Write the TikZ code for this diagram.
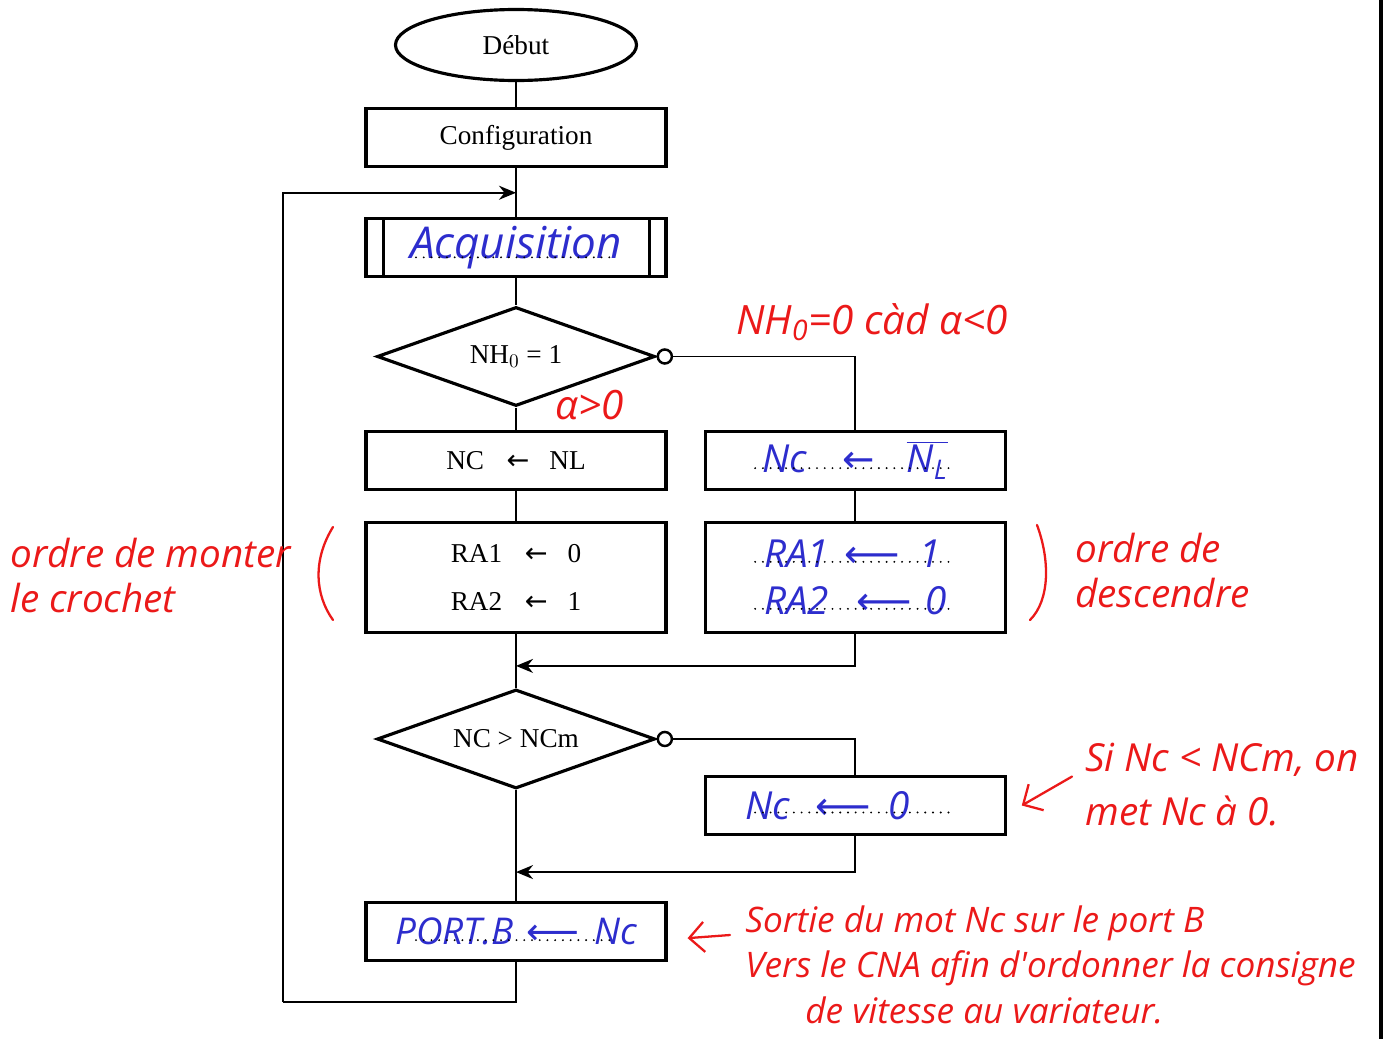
\documentclass[tikz,border=0pt]{standalone}
\usepackage{fontspec}
\setmainfont{Liberation Serif}
\newfontfamily\hand{Open Sans}
\newfontfamily\arrfont{DejaVu Sans}
\usetikzlibrary{arrows.meta, positioning, shapes.geometric}
\definecolor{ink}{RGB}{45,45,205}
\definecolor{pen}{RGB}{235,25,25}
\newcommand{\blank}[2]{\draw[blank] ([xshift=-2cm,yshift=#2]#1.center) -- ([xshift=2cm,yshift=#2]#1.center);}
\newcommand{\assign}{{\arrfont ←}}
\newcommand{\longassign}{{\arrfont ⟵}}

\begin{document}
\begin{tikzpicture}[
      box/.style={draw, line width=1.8pt, minimum width=6cm, minimum height=1.16cm, inner sep=0pt, font=\fontsize{15.5}{27}\selectfont},
      term/.style={ellipse, draw, line width=1.8pt, minimum width=4.82cm, minimum height=1.42cm, inner sep=0pt, font=\fontsize{15.5}{18}\selectfont},
      test/.style={diamond, draw, line width=1.8pt, minimum width=5.56cm, minimum height=1.98cm, aspect=2.8, inner sep=0pt, font=\fontsize{15.5}{18}\selectfont},
      link/.style={line width=1.1pt},
      flow/.style={link, -{Stealth[length=3.4mm, width=2.8mm]}},
      no/.style={link, {Circle[open, length=3.3mm, width=3.3mm, line width=1.4pt]}-},
      handw/.style={text=ink, font=\hand\itshape\fontsize{22}{27}\selectfont},
      note/.style={text=pen, font=\hand\itshape\fontsize{22}{26}\selectfont, inner sep=0pt},
      remark/.style={draw=pen, line width=1.3pt, line cap=round},
      blank/.style={line width=1.2pt, line cap=round, dash pattern=on 0pt off 4.4pt}
    ]
    \useasboundingbox (0,0) rectangle (27.66,-20.78);
    % main column
    \node[term] (start) at (10.32,-0.9) {Début};
    \node[box, below=0.5cm of start] (config) {Configuration};
    \node[box, handw, font=\hand\itshape\fontsize{25}{27}\selectfont, below=0.98cm of config] (acq) {Acquisition};
    \node[test, below=0.54cm of acq] (d1) {NH$_0$ = 1};
    \node[box, below=0.44cm of d1] (nc) {NC\hspace{0.45cm}\assign\hspace{0.4cm}NL};
    \node[box, align=center, minimum height=2.2cm, below=0.6cm of nc] (ra) {RA1\hspace{0.45cm}\assign\hspace{0.4cm}0\\RA2\hspace{0.45cm}\assign\hspace{0.4cm}1};
    \node[test, below=1.08cm of ra] (d2) {NC > NCm};
    \node[box, handw, font=\hand\itshape\fontsize{21}{27}\selectfont, below=2.22cm of d2] (port) {PORT.B\hspace{0.25cm}\longassign\hspace{0.3cm}Nc};
    % right column
    \node[box, handw, right=0.72cm of nc] (rb1) {Nc\hspace{0.7cm}\assign\hspace{0.64cm}$\overline{\mbox{N\textsubscript{L}}}$};
    \node[box, handw, align=left, minimum height=2.2cm, right=0.72cm of ra] (rb2) {RA1\hspace{0.3cm}\longassign\hspace{0.4cm}1\\RA2\hspace{0.55cm}\longassign\hspace{0.26cm}0};
    \node[box, handw, below=2.82cm of rb2] (zero) {Nc\hspace{0.5cm}\longassign\hspace{0.36cm}0\hspace{1.1cm}\mbox{}};
    % predefined process bars
    \draw[line width=1.8pt] ([xshift=0.38cm]acq.north west) -- ([xshift=0.38cm]acq.south west);
    \draw[line width=1.8pt] ([xshift=-0.36cm]acq.north east) -- ([xshift=-0.36cm]acq.south east);
    % dotted blanks
    \blank{acq}{-0.19cm}
    \blank{rb1}{-0.16cm}
    \blank{rb2}{0.31cm}
    \blank{rb2}{-0.63cm}
    \blank{zero}{-0.14cm}
    \blank{port}{-0.17cm}
    % links
    \draw[link] (start) -- (config);
    \draw[link] (config) -- (acq);
    \draw[link] (acq) -- (d1);
    \draw[link] (d1) -- (nc);
    \draw[link] (nc) -- (ra);
    \draw[link] (rb1) -- (rb2);
    \draw[link] (ra) -- (d2);
    \draw[link] (d2) -- (port);
    \draw[no] (d1.east) -| (rb1.north);
    \draw[no] (d2.east) -| (zero.north);
    \coordinate (m1) at ([yshift=-0.64cm]ra.south);
    \coordinate (m2) at ([yshift=-0.72cm]zero.south -| d2.south);
    \draw[flow] (rb2.south) |- (m1);
    \draw[flow] (zero.south) |- (m2);
    \coordinate (back) at ([yshift=-0.49cm]config.south);
    \coordinate (lp) at ([xshift=-1.62cm, yshift=-0.8cm]port.south west);
    \draw[link] (port.south) |- (lp);
    \draw[flow] (lp) |- (back);
    % notes
    \node[note, font=\hand\itshape\fontsize{23}{26}\selectfont] (neg) at (17.44,-6.44) {NH\textsubscript{0}=0 càd α<0};
    \node[note, font=\hand\itshape\fontsize{23}{26}\selectfont] (pos) at (11.8,-8.1) {α>0};
    \node[note, anchor=north west, align=left] (up) at (0.2,-10.75) {ordre de monter\\le crochet};
    \node[note, anchor=north west, align=left] (down) at (21.5,-10.65) {ordre de\\descendre};
    \node[note, anchor=north west, align=left, font=\hand\itshape\fontsize{22}{31}\selectfont] (si) at (21.7,-14.85) {Si Nc < NCm, on\\met Nc à 0.};
    \node[note, anchor=north west, align=left, font=\hand\itshape\fontsize{20}{26}\selectfont] (out) at (14.9,-18.1) {Sortie du mot Nc sur le port B\\Vers le CNA afin d'ordonner la consigne\\\hspace{1.2cm}de vitesse au variateur.};
    \draw[remark] (6.66,-10.54) .. controls (6.25,-11.2) and (6.3,-11.9) .. (6.66,-12.4);
    \draw[remark] (20.74,-10.5) .. controls (21.0,-11.2) and (21.0,-12.0) .. (20.6,-12.4);
    \draw[remark, -{Straight Barb[length=3mm]}] ([xshift=-0.26cm, yshift=0.16cm]si.west) -- ([xshift=0.3cm]zero.east);
    \draw[remark, -{Straight Barb[length=3mm]}] ([xshift=-0.3cm, yshift=-0.6cm]out.north west) -- ([xshift=0.4cm, yshift=-0.13cm]port.east);
    \draw[line width=2pt] (27.62,0) -- (27.62,-20.78);
  \end{tikzpicture}
\end{document}
